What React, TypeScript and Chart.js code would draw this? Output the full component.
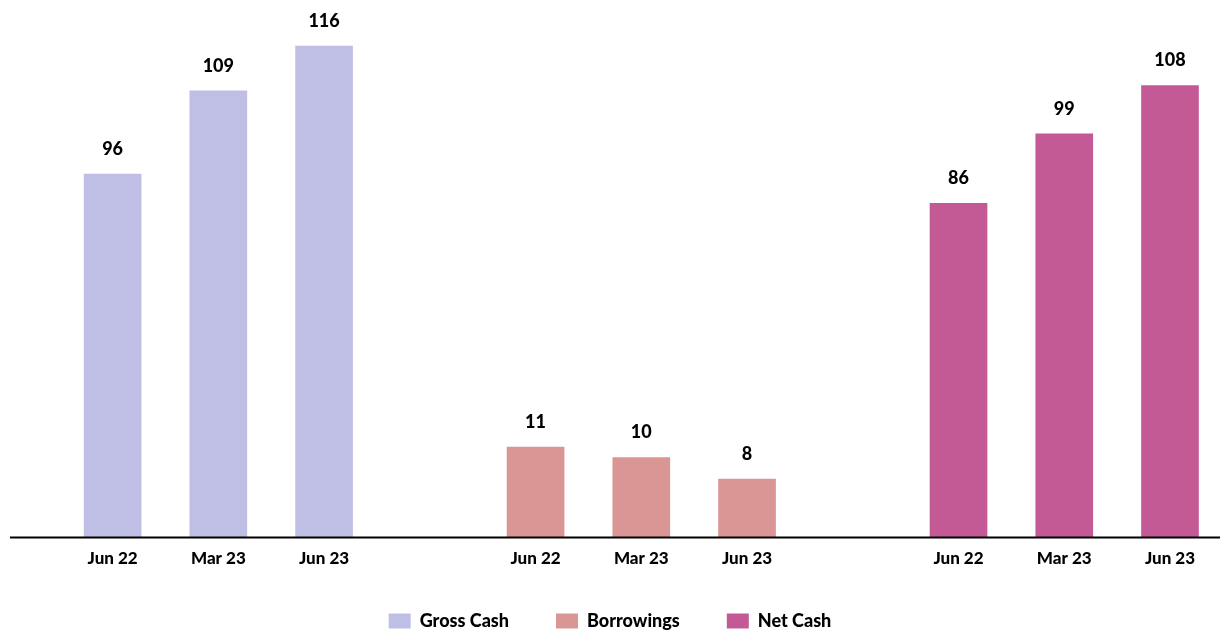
import React, { useEffect, useRef } from "react";
import { Chart, registerables } from "chart.js";

Chart.register(...registerables);

// ---- data ----
const periods = ["Jun 22", "Mar 23", "Jun 23"];
const seriesNames = ["Gross Cash", "Borrowings", "Net Cash"];
const grossCash = [96, 109, 116];
const borrowings = [11, 10, 8];
const netCash = [86, 99, 108];

// ---- styles ----
const colors = ["#BFBFE5", "#DA9694", "#C45A95"];
const FONT = "Lato, 'Noto Sans', sans-serif";

// x labels: three groups of periods with an empty slot between groups
const xLabels = [...periods, "", ...periods, "", ...periods];

function placeInGroup(values: number[], group: number): (number | null)[] {
  const out: (number | null)[] = xLabels.map(() => null);
  values.forEach((v, i) => {
    out[group * (periods.length + 1) + i] = v;
  });
  return out;
}

const valueLabelPlugin = {
  id: "valueLabels",
  afterDatasetsDraw(chart: any) {
    const { ctx } = chart;
    ctx.save();
    ctx.font = `900 18px ${FONT}`;
    ctx.fillStyle = "#000";
    ctx.textAlign = "center";
    ctx.textBaseline = "middle";
    chart.data.datasets.forEach((ds: any, di: number) => {
      const meta = chart.getDatasetMeta(di);
      meta.data.forEach((el: any, i: number) => {
        const v = ds.data[i];
        if (v === null || v === undefined) return;
        ctx.fillText(String(v), el.x, el.y - 25);
      });
    });
    ctx.restore();
  },
};

const axisLinePlugin = {
  id: "axisLine",
  afterDatasetsDraw(chart: any) {
    const { ctx, chartArea } = chart;
    ctx.save();
    ctx.strokeStyle = "#000";
    ctx.lineWidth = 2;
    ctx.beginPath();
    ctx.moveTo(10, chartArea.bottom + 0.5);
    ctx.lineTo(chart.width, chartArea.bottom + 0.5);
    ctx.stroke();
    ctx.restore();
  },
};

export default function App() {
  const ref = useRef<HTMLCanvasElement | null>(null);

  useEffect(() => {
    document.body.style.margin = "0";
    if (!ref.current) return;
    const hiddenAxis = {
      grid: { display: false },
      border: { display: false },
      ticks: { display: false },
    };
    const chart = new Chart(ref.current, {
      type: "bar",
      data: {
        labels: xLabels,
        datasets: [
          {
            label: seriesNames[0],
            data: placeInGroup(grossCash, 0),
            backgroundColor: colors[0],
            yAxisID: "y0",
          },
          {
            label: seriesNames[1],
            data: placeInGroup(borrowings, 1),
            backgroundColor: colors[1],
            yAxisID: "y1",
          },
          {
            label: seriesNames[2],
            data: placeInGroup(netCash, 2),
            backgroundColor: colors[2],
            yAxisID: "y2",
          },
        ] as any,
      },
      options: {
        responsive: false,
        animation: false,
        layout: { padding: 0 },
        datasets: {
          bar: {
            grouped: false,
            barThickness: 57,
            clip: { left: 60, right: 60, top: 20, bottom: 0 },
          } as any,
        },
        plugins: {
          legend: {
            position: "bottom",
            maxHeight: 67,
            labels: {
              boxWidth: 22,
              boxHeight: 15,
              padding: 47,
              color: "#000",
              font: { family: FONT, size: 18, weight: "900" },
            },
          },
          tooltip: { enabled: false },
        },
        scales: {
          x: {
            offset: false,
            grid: { display: false, drawTicks: false },
            border: { display: false },
            ticks: {
              autoSkip: false,
              maxRotation: 0,
              padding: 11,
              color: "#000",
              font: { family: FONT, size: 17, weight: "900" },
            },
            afterFit: (scale: any) => {
              scale.height = 28;
            },
          },
          y0: {
            ...hiddenAxis,
            position: "left",
            min: 39.3,
            max: 123.2,
            afterFit: (scale: any) => {
              scale.width = 112.6;
            },
          },
          y1: {
            ...hiddenAxis,
            position: "right",
            min: 2.56,
            max: 52.9,
            afterFit: (scale: any) => {
              scale.width = 50;
            },
          },
          y2: {
            display: false,
            min: 23.65,
            max: 124.0,
          },
        } as any,
      },
      plugins: [axisLinePlugin, valueLabelPlugin],
    });
    return () => chart.destroy();
  }, []);

  return (
    <div style={{ width: 1220, height: 632 }}>
      <canvas ref={ref} width={1220} height={632} style={{ display: "block" }} />
    </div>
  );
}
